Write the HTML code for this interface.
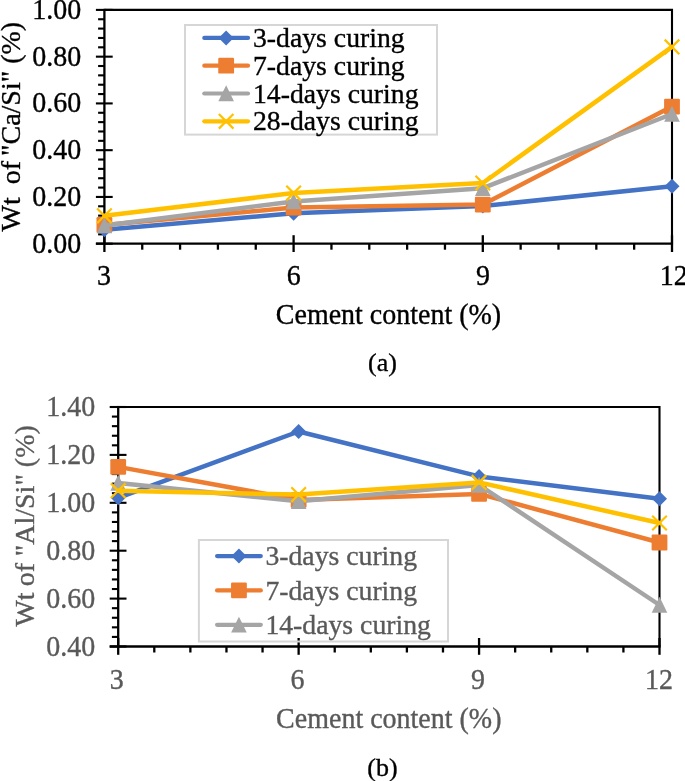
<!DOCTYPE html>
<html><head><meta charset="utf-8"><style>
html,body{margin:0;padding:0;background:#fff;}
body{width:685px;height:781px;overflow:hidden;}
svg{display:block;will-change:transform;}
text{font-family:"Liberation Serif",serif;font-size:28px;}
</style></head><body>
<svg width="685" height="781" viewBox="0 0 685 781">
<path d="M104.40 9.90H672.00V243.70" stroke="#000" stroke-width="2.1" fill="none"/>
<path d="M104.40 8.85V243.70" stroke="#000" stroke-width="2.3" fill="none"/>
<path d="M95.90 243.70H673.05" stroke="#000" stroke-width="2.3" fill="none"/>
<path d="M95.90 9.90H112.70" stroke="#000" stroke-width="2.1"/>
<path d="M98.10 19.25H104.40" stroke="#000" stroke-width="2.1"/>
<path d="M98.10 28.60H104.40" stroke="#000" stroke-width="2.1"/>
<path d="M98.10 37.96H104.40" stroke="#000" stroke-width="2.1"/>
<path d="M98.10 47.31H104.40" stroke="#000" stroke-width="2.1"/>
<path d="M95.90 56.66H112.70" stroke="#000" stroke-width="2.1"/>
<path d="M98.10 66.01H104.40" stroke="#000" stroke-width="2.1"/>
<path d="M98.10 75.36H104.40" stroke="#000" stroke-width="2.1"/>
<path d="M98.10 84.72H104.40" stroke="#000" stroke-width="2.1"/>
<path d="M98.10 94.07H104.40" stroke="#000" stroke-width="2.1"/>
<path d="M95.90 103.42H112.70" stroke="#000" stroke-width="2.1"/>
<path d="M98.10 112.77H104.40" stroke="#000" stroke-width="2.1"/>
<path d="M98.10 122.12H104.40" stroke="#000" stroke-width="2.1"/>
<path d="M98.10 131.48H104.40" stroke="#000" stroke-width="2.1"/>
<path d="M98.10 140.83H104.40" stroke="#000" stroke-width="2.1"/>
<path d="M95.90 150.18H112.70" stroke="#000" stroke-width="2.1"/>
<path d="M98.10 159.53H104.40" stroke="#000" stroke-width="2.1"/>
<path d="M98.10 168.88H104.40" stroke="#000" stroke-width="2.1"/>
<path d="M98.10 178.24H104.40" stroke="#000" stroke-width="2.1"/>
<path d="M98.10 187.59H104.40" stroke="#000" stroke-width="2.1"/>
<path d="M95.90 196.94H112.70" stroke="#000" stroke-width="2.1"/>
<path d="M98.10 206.29H104.40" stroke="#000" stroke-width="2.1"/>
<path d="M98.10 215.64H104.40" stroke="#000" stroke-width="2.1"/>
<path d="M98.10 225.00H104.40" stroke="#000" stroke-width="2.1"/>
<path d="M98.10 234.35H104.40" stroke="#000" stroke-width="2.1"/>
<path d="M95.90 243.70H112.70" stroke="#000" stroke-width="2.1"/>
<path d="M104.40 235.20V252.00" stroke="#000" stroke-width="2.3"/>
<path d="M142.24 243.70V249.70" stroke="#000" stroke-width="2.3"/>
<path d="M180.08 243.70V249.70" stroke="#000" stroke-width="2.3"/>
<path d="M217.92 243.70V249.70" stroke="#000" stroke-width="2.3"/>
<path d="M255.76 243.70V249.70" stroke="#000" stroke-width="2.3"/>
<path d="M293.60 235.20V252.00" stroke="#000" stroke-width="2.3"/>
<path d="M331.44 243.70V249.70" stroke="#000" stroke-width="2.3"/>
<path d="M369.28 243.70V249.70" stroke="#000" stroke-width="2.3"/>
<path d="M407.12 243.70V249.70" stroke="#000" stroke-width="2.3"/>
<path d="M444.96 243.70V249.70" stroke="#000" stroke-width="2.3"/>
<path d="M482.80 235.20V252.00" stroke="#000" stroke-width="2.3"/>
<path d="M520.64 243.70V249.70" stroke="#000" stroke-width="2.3"/>
<path d="M558.48 243.70V249.70" stroke="#000" stroke-width="2.3"/>
<path d="M596.32 243.70V249.70" stroke="#000" stroke-width="2.3"/>
<path d="M634.16 243.70V249.70" stroke="#000" stroke-width="2.3"/>
<path d="M672.00 235.20V252.00" stroke="#000" stroke-width="2.3"/>
<text transform="translate(81.20,18.90) scale(1.0,1.085)" text-anchor="end" stroke="#000" stroke-width="0.35" xml:space="preserve">1.00</text>
<text transform="translate(81.20,65.66) scale(1.0,1.085)" text-anchor="end" stroke="#000" stroke-width="0.35" xml:space="preserve">0.80</text>
<text transform="translate(81.20,112.42) scale(1.0,1.085)" text-anchor="end" stroke="#000" stroke-width="0.35" xml:space="preserve">0.60</text>
<text transform="translate(81.20,159.18) scale(1.0,1.085)" text-anchor="end" stroke="#000" stroke-width="0.35" xml:space="preserve">0.40</text>
<text transform="translate(81.20,205.94) scale(1.0,1.085)" text-anchor="end" stroke="#000" stroke-width="0.35" xml:space="preserve">0.20</text>
<text transform="translate(81.20,252.70) scale(1.0,1.085)" text-anchor="end" stroke="#000" stroke-width="0.35" xml:space="preserve">0.00</text>
<text transform="translate(103.90,285.00) scale(1.0,1.085)" text-anchor="middle" stroke="#000" stroke-width="0.35" xml:space="preserve">3</text>
<text transform="translate(293.80,285.00) scale(1.0,1.085)" text-anchor="middle" stroke="#000" stroke-width="0.35" xml:space="preserve">6</text>
<text transform="translate(482.90,285.00) scale(1.0,1.085)" text-anchor="middle" stroke="#000" stroke-width="0.35" xml:space="preserve">9</text>
<text transform="translate(673.80,285.00) scale(1.0,1.085)" text-anchor="middle" stroke="#000" stroke-width="0.35" xml:space="preserve">12</text>
<text transform="translate(388.50,323.90) scale(1.0,1.07)" text-anchor="middle" stroke="#000" stroke-width="0.35" xml:space="preserve">Cement content (%)</text>
<text transform="translate(382.50,371.40)" text-anchor="middle" stroke="#000" stroke-width="0.35" style="font-size:26px" xml:space="preserve">(a)</text>
<text transform="translate(19.80,231.50) rotate(-90)" stroke="#000" stroke-width="0.35" xml:space="preserve">Wt <tspan dx="6">of</tspan> <tspan dx="-2">"Ca/Si" (%)</tspan></text>
<polyline points="104.40,229.80 293.60,213.30 482.80,206.00 672.00,186.20" fill="none" stroke="#4472c4" stroke-width="4.5" stroke-linejoin="round" stroke-linecap="round"/><path d="M104.40 222.30L111.90 229.80L104.40 237.30L96.90 229.80Z" fill="#4472c4"/><path d="M293.60 205.80L301.10 213.30L293.60 220.80L286.10 213.30Z" fill="#4472c4"/><path d="M482.80 198.50L490.30 206.00L482.80 213.50L475.30 206.00Z" fill="#4472c4"/><path d="M672.00 178.70L679.50 186.20L672.00 193.70L664.50 186.20Z" fill="#4472c4"/>
<polyline points="104.40,224.90 293.60,207.50 482.80,204.60 672.00,106.60" fill="none" stroke="#ed7d31" stroke-width="4.5" stroke-linejoin="round" stroke-linecap="round"/><rect x="96.50" y="217.00" width="15.80" height="15.80" rx="1.2" fill="#ed7d31"/><rect x="285.70" y="199.60" width="15.80" height="15.80" rx="1.2" fill="#ed7d31"/><rect x="474.90" y="196.70" width="15.80" height="15.80" rx="1.2" fill="#ed7d31"/><rect x="664.10" y="98.70" width="15.80" height="15.80" rx="1.2" fill="#ed7d31"/>
<polyline points="104.40,225.50 293.60,201.50 482.80,188.20 672.00,114.00" fill="none" stroke="#a5a5a5" stroke-width="4.5" stroke-linejoin="round" stroke-linecap="round"/><path d="M104.40 217.35L112.20 233.25L96.60 233.25Z" fill="#a5a5a5"/><path d="M293.60 193.35L301.40 209.25L285.80 209.25Z" fill="#a5a5a5"/><path d="M482.80 180.05L490.60 195.95L475.00 195.95Z" fill="#a5a5a5"/><path d="M672.00 105.85L679.80 121.75L664.20 121.75Z" fill="#a5a5a5"/>
<polyline points="104.40,215.80 293.60,193.10 482.80,183.00 672.00,46.90" fill="none" stroke="#ffc000" stroke-width="4.5" stroke-linejoin="round" stroke-linecap="round"/><path d="M97.10 208.50L111.70 223.10M111.70 208.50L97.10 223.10" stroke="#ffc000" stroke-width="2.2" fill="none"/><path d="M286.30 185.80L300.90 200.40M300.90 185.80L286.30 200.40" stroke="#ffc000" stroke-width="2.2" fill="none"/><path d="M475.50 175.70L490.10 190.30M490.10 175.70L475.50 190.30" stroke="#ffc000" stroke-width="2.2" fill="none"/><path d="M664.70 39.60L679.30 54.20M679.30 39.60L664.70 54.20" stroke="#ffc000" stroke-width="2.2" fill="none"/>
<rect x="185.00" y="25.00" width="252.00" height="109.60" fill="none" stroke="#d6d6d6" stroke-width="2.0"/>
<path d="M204.30 37.90H248.00" stroke="#4472c4" stroke-width="4.2" stroke-linecap="round"/>
<path d="M226.15 30.40L233.65 37.90L226.15 45.40L218.65 37.90Z" fill="#4472c4"/>
<text transform="translate(253.00,47.00) scale(0.99,1.0)" stroke="#000" stroke-width="0.35" xml:space="preserve">3-days curing</text>
<path d="M204.30 65.70H248.00" stroke="#ed7d31" stroke-width="4.2" stroke-linecap="round"/>
<rect x="218.25" y="57.80" width="15.80" height="15.80" rx="1.2" fill="#ed7d31"/>
<text transform="translate(253.00,74.80) scale(0.99,1.0)" stroke="#000" stroke-width="0.35" xml:space="preserve">7-days curing</text>
<path d="M204.30 93.50H248.00" stroke="#a5a5a5" stroke-width="4.2" stroke-linecap="round"/>
<path d="M226.15 85.35L233.95 101.25L218.35 101.25Z" fill="#a5a5a5"/>
<text transform="translate(253.00,102.60) scale(0.99,1.0)" stroke="#000" stroke-width="0.35" xml:space="preserve">14-days curing</text>
<path d="M204.30 121.30H248.00" stroke="#ffc000" stroke-width="4.2" stroke-linecap="round"/>
<path d="M218.85 114.00L233.45 128.60M233.45 114.00L218.85 128.60" stroke="#ffc000" stroke-width="2.2" fill="none"/>
<text transform="translate(253.00,130.40) scale(0.99,1.0)" stroke="#000" stroke-width="0.35" xml:space="preserve">28-days curing</text>
<path d="M118.20 407.00H659.50V646.50" stroke="#000" stroke-width="2.1" fill="none"/>
<path d="M118.20 405.95V646.50" stroke="#000" stroke-width="2.3" fill="none"/>
<path d="M109.70 646.50H660.55" stroke="#000" stroke-width="2.3" fill="none"/>
<path d="M109.70 407.00H126.50" stroke="#000" stroke-width="2.1"/>
<path d="M111.90 416.58H118.20" stroke="#000" stroke-width="2.1"/>
<path d="M111.90 426.16H118.20" stroke="#000" stroke-width="2.1"/>
<path d="M111.90 435.74H118.20" stroke="#000" stroke-width="2.1"/>
<path d="M111.90 445.32H118.20" stroke="#000" stroke-width="2.1"/>
<path d="M109.70 454.90H126.50" stroke="#000" stroke-width="2.1"/>
<path d="M111.90 464.48H118.20" stroke="#000" stroke-width="2.1"/>
<path d="M111.90 474.06H118.20" stroke="#000" stroke-width="2.1"/>
<path d="M111.90 483.64H118.20" stroke="#000" stroke-width="2.1"/>
<path d="M111.90 493.22H118.20" stroke="#000" stroke-width="2.1"/>
<path d="M109.70 502.80H126.50" stroke="#000" stroke-width="2.1"/>
<path d="M111.90 512.38H118.20" stroke="#000" stroke-width="2.1"/>
<path d="M111.90 521.96H118.20" stroke="#000" stroke-width="2.1"/>
<path d="M111.90 531.54H118.20" stroke="#000" stroke-width="2.1"/>
<path d="M111.90 541.12H118.20" stroke="#000" stroke-width="2.1"/>
<path d="M109.70 550.70H126.50" stroke="#000" stroke-width="2.1"/>
<path d="M111.90 560.28H118.20" stroke="#000" stroke-width="2.1"/>
<path d="M111.90 569.86H118.20" stroke="#000" stroke-width="2.1"/>
<path d="M111.90 579.44H118.20" stroke="#000" stroke-width="2.1"/>
<path d="M111.90 589.02H118.20" stroke="#000" stroke-width="2.1"/>
<path d="M109.70 598.60H126.50" stroke="#000" stroke-width="2.1"/>
<path d="M111.90 608.18H118.20" stroke="#000" stroke-width="2.1"/>
<path d="M111.90 617.76H118.20" stroke="#000" stroke-width="2.1"/>
<path d="M111.90 627.34H118.20" stroke="#000" stroke-width="2.1"/>
<path d="M111.90 636.92H118.20" stroke="#000" stroke-width="2.1"/>
<path d="M109.70 646.50H126.50" stroke="#000" stroke-width="2.1"/>
<path d="M118.20 638.00V654.80" stroke="#000" stroke-width="2.3"/>
<path d="M154.29 646.50V652.50" stroke="#000" stroke-width="2.3"/>
<path d="M190.37 646.50V652.50" stroke="#000" stroke-width="2.3"/>
<path d="M226.46 646.50V652.50" stroke="#000" stroke-width="2.3"/>
<path d="M262.55 646.50V652.50" stroke="#000" stroke-width="2.3"/>
<path d="M298.63 638.00V654.80" stroke="#000" stroke-width="2.3"/>
<path d="M334.72 646.50V652.50" stroke="#000" stroke-width="2.3"/>
<path d="M370.81 646.50V652.50" stroke="#000" stroke-width="2.3"/>
<path d="M406.89 646.50V652.50" stroke="#000" stroke-width="2.3"/>
<path d="M442.98 646.50V652.50" stroke="#000" stroke-width="2.3"/>
<path d="M479.07 638.00V654.80" stroke="#000" stroke-width="2.3"/>
<path d="M515.15 646.50V652.50" stroke="#000" stroke-width="2.3"/>
<path d="M551.24 646.50V652.50" stroke="#000" stroke-width="2.3"/>
<path d="M587.33 646.50V652.50" stroke="#000" stroke-width="2.3"/>
<path d="M623.41 646.50V652.50" stroke="#000" stroke-width="2.3"/>
<path d="M659.50 638.00V654.80" stroke="#000" stroke-width="2.3"/>
<text transform="translate(95.30,416.00) scale(1.0,1.085)" text-anchor="end" fill="#595959" stroke="#595959" stroke-width="0.35" xml:space="preserve">1.40</text>
<text transform="translate(95.30,463.90) scale(1.0,1.085)" text-anchor="end" fill="#595959" stroke="#595959" stroke-width="0.35" xml:space="preserve">1.20</text>
<text transform="translate(95.30,511.80) scale(1.0,1.085)" text-anchor="end" fill="#595959" stroke="#595959" stroke-width="0.35" xml:space="preserve">1.00</text>
<text transform="translate(95.30,559.70) scale(1.0,1.085)" text-anchor="end" fill="#595959" stroke="#595959" stroke-width="0.35" xml:space="preserve">0.80</text>
<text transform="translate(95.30,607.60) scale(1.0,1.085)" text-anchor="end" fill="#595959" stroke="#595959" stroke-width="0.35" xml:space="preserve">0.60</text>
<text transform="translate(95.30,655.50) scale(1.0,1.085)" text-anchor="end" fill="#595959" stroke="#595959" stroke-width="0.35" xml:space="preserve">0.40</text>
<text transform="translate(116.70,689.40) scale(1.0,1.085)" text-anchor="middle" fill="#595959" stroke="#595959" stroke-width="0.35" xml:space="preserve">3</text>
<text transform="translate(297.43,689.40) scale(1.0,1.085)" text-anchor="middle" fill="#595959" stroke="#595959" stroke-width="0.35" xml:space="preserve">6</text>
<text transform="translate(478.07,689.40) scale(1.0,1.085)" text-anchor="middle" fill="#595959" stroke="#595959" stroke-width="0.35" xml:space="preserve">9</text>
<text transform="translate(659.00,689.40) scale(1.0,1.085)" text-anchor="middle" fill="#595959" stroke="#595959" stroke-width="0.35" xml:space="preserve">12</text>
<text transform="translate(388.80,728.20) scale(1.0,1.07)" text-anchor="middle" fill="#595959" stroke="#595959" stroke-width="0.35" xml:space="preserve">Cement content (%)</text>
<text transform="translate(382.40,775.60)" text-anchor="middle" stroke="#000" stroke-width="0.35" style="font-size:26px" xml:space="preserve">(b)</text>
<text transform="translate(33.50,626.60) rotate(-90)" fill="#595959" stroke="#595959" stroke-width="0.35" xml:space="preserve">Wt <tspan dx="-0.8">of</tspan> <tspan dx="-0.3">"Al/Si" (%)</tspan></text>
<polyline points="118.20,497.80 298.63,431.50 479.07,476.40 659.50,498.80" fill="none" stroke="#4472c4" stroke-width="4.5" stroke-linejoin="round" stroke-linecap="round"/><path d="M118.20 490.30L125.70 497.80L118.20 505.30L110.70 497.80Z" fill="#4472c4"/><path d="M298.63 424.00L306.13 431.50L298.63 439.00L291.13 431.50Z" fill="#4472c4"/><path d="M479.07 468.90L486.57 476.40L479.07 483.90L471.57 476.40Z" fill="#4472c4"/><path d="M659.50 491.30L667.00 498.80L659.50 506.30L652.00 498.80Z" fill="#4472c4"/>
<polyline points="118.20,466.90 298.63,499.90 479.07,493.90 659.50,542.50" fill="none" stroke="#ed7d31" stroke-width="4.5" stroke-linejoin="round" stroke-linecap="round"/><rect x="110.30" y="459.00" width="15.80" height="15.80" rx="1.2" fill="#ed7d31"/><rect x="290.73" y="492.00" width="15.80" height="15.80" rx="1.2" fill="#ed7d31"/><rect x="471.17" y="486.00" width="15.80" height="15.80" rx="1.2" fill="#ed7d31"/><rect x="651.60" y="534.60" width="15.80" height="15.80" rx="1.2" fill="#ed7d31"/>
<polyline points="118.20,483.00 298.63,501.20 479.07,485.00 659.50,605.00" fill="none" stroke="#a5a5a5" stroke-width="4.5" stroke-linejoin="round" stroke-linecap="round"/><path d="M118.20 474.85L126.00 490.75L110.40 490.75Z" fill="#a5a5a5"/><path d="M298.63 493.05L306.43 508.95L290.83 508.95Z" fill="#a5a5a5"/><path d="M479.07 476.85L486.87 492.75L471.27 492.75Z" fill="#a5a5a5"/><path d="M659.50 596.85L667.30 612.75L651.70 612.75Z" fill="#a5a5a5"/>
<polyline points="118.20,490.70 298.63,494.60 479.07,482.40 659.50,523.00" fill="none" stroke="#ffc000" stroke-width="4.5" stroke-linejoin="round" stroke-linecap="round"/><path d="M110.90 483.40L125.50 498.00M125.50 483.40L110.90 498.00" stroke="#ffc000" stroke-width="2.2" fill="none"/><path d="M291.33 487.30L305.93 501.90M305.93 487.30L291.33 501.90" stroke="#ffc000" stroke-width="2.2" fill="none"/><path d="M471.77 475.10L486.37 489.70M486.37 475.10L471.77 489.70" stroke="#ffc000" stroke-width="2.2" fill="none"/><path d="M652.20 515.70L666.80 530.30M666.80 515.70L652.20 530.30" stroke="#ffc000" stroke-width="2.2" fill="none"/>
<rect x="198.90" y="540.00" width="249.10" height="101.50" fill="none" stroke="#d6d6d6" stroke-width="2.0"/>
<path d="M217.10 556.10H260.80" stroke="#4472c4" stroke-width="4.2" stroke-linecap="round"/>
<path d="M238.95 548.60L246.45 556.10L238.95 563.60L231.45 556.10Z" fill="#4472c4"/>
<text transform="translate(265.40,565.20) scale(0.99,1.0)" fill="#595959" stroke="#595959" stroke-width="0.35" xml:space="preserve">3-days curing</text>
<path d="M217.10 590.40H260.80" stroke="#ed7d31" stroke-width="4.2" stroke-linecap="round"/>
<rect x="231.05" y="582.50" width="15.80" height="15.80" rx="1.2" fill="#ed7d31"/>
<text transform="translate(265.40,599.50) scale(0.99,1.0)" fill="#595959" stroke="#595959" stroke-width="0.35" xml:space="preserve">7-days curing</text>
<path d="M217.10 624.80H260.80" stroke="#a5a5a5" stroke-width="4.2" stroke-linecap="round"/>
<path d="M238.95 616.65L246.75 632.55L231.15 632.55Z" fill="#a5a5a5"/>
<text transform="translate(265.40,633.90) scale(0.99,1.0)" fill="#595959" stroke="#595959" stroke-width="0.35" xml:space="preserve">14-days curing</text>
</svg>
</body></html>
